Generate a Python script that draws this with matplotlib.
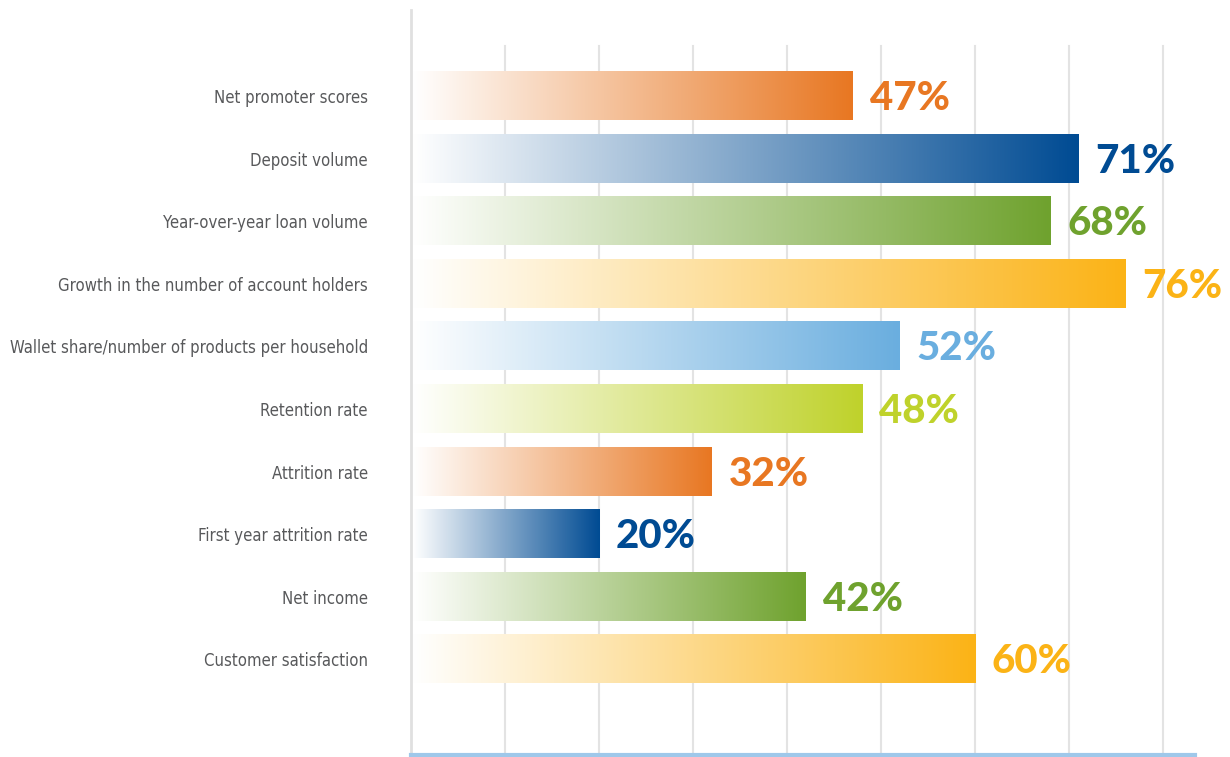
import matplotlib.pyplot as plt
import numpy as np
from matplotlib.colors import LinearSegmentedColormap

categories = [
    'Net promoter scores',
    'Deposit volume',
    'Year-over-year loan volume',
    'Growth in the number of account holders',
    'Wallet share/number of products per household',
    'Retention rate',
    'Attrition rate',
    'First year attrition rate',
    'Net income',
    'Customer satisfaction',
]
values = [47, 71, 68, 76, 52, 48, 32, 20, 42, 60]
colors = ['#E87722', '#004B93', '#6FA22E', '#FBB316', '#6AAEDF',
          '#BFD22B', '#E87722', '#004B93', '#6FA22E', '#FBB316']


if __name__ == '__main__':
    fig = plt.figure(figsize=(12.3, 7.57), dpi=100)
    ax = fig.add_axes([411 / 1230, 2 / 757, 784 / 1230, 745 / 757])

    xmax = 83.4

    # grid lines
    for g in range(10, 90, 10):
        ax.plot([g, g], [-0.8, 10.53], color='#E3E3E3', lw=1.5, zorder=0)

    grad = np.linspace(0, 1, 256).reshape(1, -1)
    h = 0.77
    for i, (v, c) in enumerate(zip(values, colors)):
        cmap = LinearSegmentedColormap.from_list('g%d' % i, ['#FFFFFF', c])
        ax.imshow(grad, cmap=cmap, aspect='auto', interpolation='bicubic',
                  extent=[0.2, v, i + h / 2, i - h / 2], zorder=2)
        ax.text(v + 1.8, i + 0.04, '%d%%' % v, color=c, fontsize=29,
                fontweight='black', family='Lato', va='center', ha='left')

    ax.set_xlim(0, xmax)
    ax.set_ylim(10.53, -1.375)

    ax.set_yticks(range(len(categories)))
    ax.set_yticklabels(categories, fontsize=12, color='#58595B',
                       family='DejaVu Sans', fontstretch='condensed')
    ax.tick_params(axis='y', length=0, pad=31)
    ax.set_xticks([])

    for s in ['top', 'right']:
        ax.spines[s].set_visible(False)
    ax.spines['left'].set_color('#E0E0E0')
    ax.spines['left'].set_linewidth(2)
    ax.spines['bottom'].set_color('#9FC8EA')
    ax.spines['bottom'].set_linewidth(3)

    fig.savefig('out.png', dpi=100)
